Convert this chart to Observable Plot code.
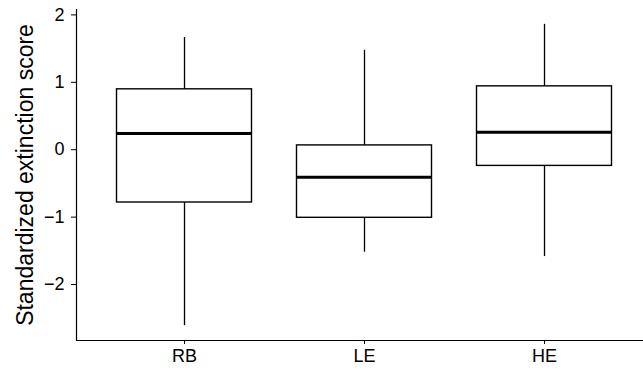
<!DOCTYPE html>
<html>
<head>
<meta charset="utf-8">
<script src="https://cdn.jsdelivr.net/npm/d3@7"></script>
<script src="https://cdn.jsdelivr.net/npm/@observablehq/plot@0.6"></script>
<style>
  html, body { margin: 0; padding: 0; background: #fff; }
  #chart svg { display: block; }
  #chart svg text { font-size: 18px !important; font-family: 'Liberation Sans', Arial, Helvetica, sans-serif !important; fill: black; }
  #chart svg text.ylab { font-size: 23px !important; }
</style>
</head>
<body>
<div id="chart"></div>
<script>
const categories = ["RB", "LE", "HE"];
const whiskerLow = [-2.61, -1.52, -1.585];
const q1 = [-0.783, -1.01, -0.24];
const median = [0.242, -0.41, 0.26];
const q3 = [0.896, 0.064, 0.94];
const whiskerHigh = [1.664, 1.475, 1.86];
const yTicks = [-2, -1, 0, 1, 2];
const yLabel = "Standardized extinction score";

const data = categories.map((c, k) => ({
  cat: c, i: k + 1,
  lo: whiskerLow[k], q1: q1[k], med: median[k], q3: q3[k], hi: whiskerHigh[k]
}));

const xDomain = [0.4, 3.55];
const yDomain = [-2.83, 2.08];
const halfWidth = 0.375;
const fmt = d => d < 0 ? "\u2212" + Math.abs(d) : String(d);

const chart = Plot.plot({
  width: 643,
  height: 370,
  marginLeft: 76,
  marginRight: 0,
  marginTop: 9,
  marginBottom: 30,
  style: {fontFamily: "'Liberation Sans', Arial, Helvetica, sans-serif", color: "black", background: "white"},
  x: {domain: xDomain},
  y: {domain: yDomain},
  marks: [
    Plot.ruleX(data, {x: "i", y1: "lo", y2: "q1", stroke: "black", strokeWidth: 1.3}),
    Plot.ruleX(data, {x: "i", y1: "q3", y2: "hi", stroke: "black", strokeWidth: 1.3}),
    Plot.rect(data, {x1: d => d.i - halfWidth, x2: d => d.i + halfWidth, y1: "q1", y2: "q3",
      fill: "white", stroke: "black", strokeWidth: 1.4}),
    Plot.ruleY(data, {y: "med", x1: d => d.i - halfWidth, x2: d => d.i + halfWidth, stroke: "black", strokeWidth: 3}),
    Plot.ruleX([xDomain[0]], {stroke: "black", strokeWidth: 1.2}),
    Plot.ruleY([yDomain[0]], {stroke: "black", strokeWidth: 1.2}),
    Plot.axisX({ticks: [1, 2, 3], tickFormat: i => categories[i - 1], tickSize: 4, tickPadding: 5,
      label: null, stroke: "black", color: "black"}),
    Plot.axisY({ticks: yTicks, tickFormat: fmt, tickSize: 5, tickPadding: 7, label: yLabel,
      labelAnchor: "center", labelArrow: "none", labelOffset: 60, stroke: "black", color: "black"})
  ]
});
chart.querySelectorAll("text").forEach(t => {
  if (t.textContent.indexOf("Standardized") >= 0) t.classList.add("ylab");
});
document.getElementById("chart").append(chart);
</script>
</body>
</html>
